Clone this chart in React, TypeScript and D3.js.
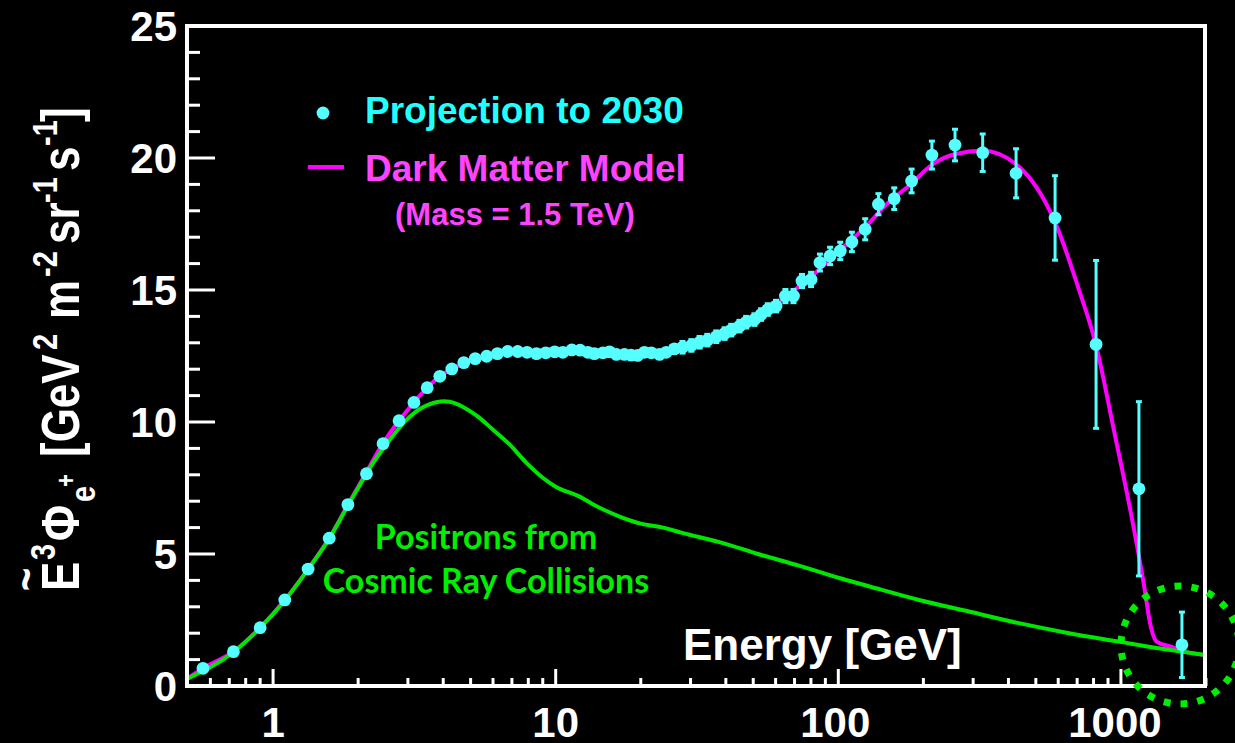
import React from "react";
import * as d3 from "d3";

// ---------- data ----------
const energies = [0.565, 0.724, 0.9, 1.1, 1.33, 1.58, 1.84, 2.14, 2.45, 2.79,
  3.15, 3.51, 3.89, 4.29, 4.73, 5.19, 5.7, 6.22, 6.76, 7.34,
  7.92, 8.55, 9.22, 9.92, 10.6, 11.4, 12.2, 13.0, 13.7, 14.7,
  15.5, 16.4, 17.5, 18.5, 19.5, 20.6, 21.8, 23.3, 24.6, 26.3,
  28.1, 30.2, 32.3, 34.4, 37.0, 39.6, 41.8, 44.7, 47.2, 50.5,
  53.3, 56.3, 60.2, 65.0, 69.4, 74.4, 80.1, 86.1, 93.5, 101.6,
  111.7, 124.5, 138.7, 157.7, 181.7, 214.4, 258.8, 324.2, 425.6, 584.8,
  816.6, 1158, 1644];
const values = [0.67, 1.3, 2.21, 3.26, 4.43, 5.6, 6.87, 8.04, 9.18, 10.05,
  10.74, 11.3, 11.73, 12.01, 12.25, 12.4, 12.49, 12.59, 12.67, 12.67,
  12.64, 12.59, 12.62, 12.66, 12.64, 12.73, 12.72, 12.64, 12.59, 12.62,
  12.66, 12.56, 12.56, 12.53, 12.52, 12.64, 12.62, 12.56, 12.64, 12.77,
  12.83, 12.9, 13.02, 13.1, 13.23, 13.35, 13.48, 13.63, 13.78, 13.88,
  14.07, 14.26, 14.39, 14.77, 14.77, 15.34, 15.4, 16.04, 16.29, 16.48,
  16.82, 17.3, 18.25, 18.46, 19.13, 20.11, 20.49, 20.2, 19.42, 17.73,
  12.94, 7.47, 1.56];
const errors = [0.08, 0.08, 0.08, 0.08, 0.08, 0.08, 0.08, 0.08, 0.08, 0.08,
  0.08, 0.08, 0.08, 0.08, 0.08, 0.08, 0.08, 0.08, 0.08, 0.08,
  0.08, 0.08, 0.08, 0.08, 0.08, 0.08, 0.08, 0.08, 0.08, 0.08,
  0.08, 0.08, 0.08, 0.08, 0.08, 0.08, 0.08, 0.08, 0.08, 0.08,
  0.22, 0.22, 0.22, 0.22, 0.22, 0.22, 0.22, 0.22, 0.22, 0.22,
  0.22, 0.22, 0.22, 0.25, 0.25, 0.25, 0.27, 0.32, 0.33, 0.33,
  0.37, 0.4, 0.4, 0.41, 0.45, 0.53, 0.6, 0.71, 0.93, 1.6,
  3.18, 3.3, 1.24];

// Dark matter model curve
const modelE = [0.5, 0.565, 0.724, 0.9, 1.1, 1.33, 1.58, 1.84, 2.14, 2.45,
  2.79, 3.15, 3.51, 3.89, 4.29, 5.19, 6.22, 7.34, 9, 12,
  16, 20, 25, 30, 40, 50, 60, 70, 80, 100,
  125, 150, 180, 215, 260, 324, 425, 585, 711, 816,
  944, 1096, 1225, 1256, 1341, 1514, 1644, 2000];
const modelV = [0.29, 0.67, 1.3, 2.21, 3.26, 4.43, 5.6, 6.87, 8.1, 9.2,
  10.05, 10.74, 11.3, 11.73, 12.01, 12.38, 12.57, 12.63, 12.62, 12.62,
  12.57, 12.55, 12.62, 12.85, 13.35, 13.9, 14.45, 15.0, 15.5, 16.45,
  17.4, 18.3, 19.0, 19.75, 20.15, 20.27, 19.77, 17.56, 15.0, 12.92,
  9.7, 6.3, 3.38, 2.62, 1.67, 1.48, 1.33, 1.17];

// Cosmic-ray background curve
const bgE = [0.5, 0.724, 0.9, 1.1, 1.33, 1.58, 1.84, 2.05, 2.26, 2.59,
  2.97, 3.4, 3.69, 4.0, 4.22, 4.7, 5.25, 6.0, 6.88, 7.88,
  9.02, 10.0, 12, 14.3, 17, 20, 24, 28, 38, 52,
  73, 100, 129, 193, 290, 436, 655, 984, 1478, 2000];
const bgV = [0.29, 1.28, 2.2, 3.24, 4.42, 5.58, 6.83, 7.7, 8.45, 9.33,
  10.09, 10.57, 10.72, 10.79, 10.77, 10.57, 10.24, 9.71, 9.14, 8.45,
  7.88, 7.55, 7.2, 6.75, 6.4, 6.15, 6.0, 5.8, 5.45, 5.0,
  4.55, 4.1, 3.77, 3.26, 2.82, 2.38, 2.0, 1.68, 1.37, 1.17];

const yTicks = [0, 5, 10, 15, 20, 25];
const xTickLabels = ["1", "10", "100", "1000"];
const xMajor = [1, 10, 100, 1000];

// ---------- layout ----------
const W = 1235, H = 743;
const left = 187, right = 1205, top = 26, bottom = 686;

const CYAN = "#55ffff";
const MAGENTA = "#ff00ff";
const GREEN = "#00e600";

export default function App() {
  const x = d3.scaleLog().domain([0.5, 2000]).range([left + 1, right + 1]);
  const y = d3.scaleLinear().domain([0, 25]).range([bottom, top]);

  const line = d3
    .line<[number, number]>()
    .x((d) => x(d[0]))
    .y((d) => y(d[1]))
    .curve(d3.curveMonotoneX);

  const model = modelE.map((e, i) => [e, modelV[i]] as [number, number]);
  const bg = bgE.map((e, i) => [e, bgV[i]] as [number, number]);

  const xMinor: number[] = [];
  for (let dec = 0.1; dec <= 1000; dec *= 10) {
    for (let k = 2; k <= 9; k++) {
      const v = +(k * dec).toPrecision(3);
      if (v >= 0.55 && v <= 2000) xMinor.push(v);
    }
  }
  const yMinor = d3.range(0, 26).filter((v) => v % 5 !== 0);

  const font = "'Liberation Sans', Arial, Helvetica, sans-serif";

  const tScale = 1.22;
  const tf = 44;
  const sf = 29;

  return (
    <svg
      width={W}
      height={H}
      style={{ position: "absolute", left: 0, top: 0, display: "block", background: "#000" }}
    >
      <rect x={0} y={0} width={W} height={H} fill="#000" />

      <defs>
        <clipPath id="plotclip">
          <rect x={left} y={top} width={right - left} height={bottom - top} />
        </clipPath>
      </defs>

      {/* curves */}
      <g clipPath="url(#plotclip)">
        <path d={line(model) || ""} fill="none" stroke={MAGENTA} strokeWidth={4} />
        <path d={line(bg) || ""} fill="none" stroke={GREEN} strokeWidth={4} />
      </g>

      {/* error bars */}
      <g stroke={CYAN} strokeWidth={3}>
        {energies.map((e, i) => {
          const cx = x(e);
          const y1 = y(values[i] + errors[i]);
          const y2 = y(values[i] - errors[i]);
          return (
            <g key={i}>
              <line x1={cx} x2={cx} y1={y1} y2={y2} />
              <line x1={cx - 3} x2={cx + 3} y1={y1} y2={y1} />
              <line x1={cx - 3} x2={cx + 3} y1={y2} y2={y2} />
            </g>
          );
        })}
      </g>
      {/* points */}
      <g fill={CYAN}>
        {energies.map((e, i) => (
          <circle key={i} cx={x(e)} cy={y(values[i])} r={6.4} />
        ))}
      </g>

      {/* frame */}
      <rect
        x={left}
        y={top}
        width={right - left}
        height={bottom - top}
        fill="none"
        stroke="#fff"
        strokeWidth={4}
      />

      {/* ticks */}
      <g stroke="#fff" strokeWidth={3}>
        {yTicks.map((t) => (
          <line key={"ym" + t} x1={left} x2={left + 28} y1={y(t)} y2={y(t)} />
        ))}
        {yMinor.map((t) => (
          <line key={"yn" + t} x1={left} x2={left + 13} y1={y(t)} y2={y(t)} />
        ))}
        {xMajor.map((t) => (
          <line key={"xm" + t} x1={x(t)} x2={x(t)} y1={bottom} y2={bottom - 17} />
        ))}
        {xMinor.map((t) => (
          <line key={"xn" + t} x1={x(t)} x2={x(t)} y1={bottom} y2={bottom - 8} />
        ))}
      </g>

      {/* y tick labels */}
      <g fill="#fff" fontFamily={font} fontWeight="bold" fontSize={42} textAnchor="end">
        {yTicks.map((t) => (
          <text key={t} x={177} y={y(t) + 15}>
            {t}
          </text>
        ))}
      </g>
      {/* x tick labels */}
      <g fill="#fff" fontFamily={font} fontWeight="bold" fontSize={42} textAnchor="middle">
        {xMajor.map((t, i) => (
          <text key={t} x={x(t) - (i === 3 ? 6 : i === 2 ? 3 : 0)} y={737}>
            {xTickLabels[i]}
          </text>
        ))}
      </g>

      {/* x title */}
      <text x={683} y={660} fill="#fff" fontFamily={font} fontWeight="bold" fontSize={44}>
        Energy [GeV]
      </text>

      {/* y title */}
      <g
        transform={`translate(79, 591) scale(${tScale},1) rotate(-90)`}
        fill="#fff"
        fontFamily={font}
        fontWeight="bold"
      >
        <text x={0} y={0} fontSize={tf}>E</text>
        <text x={0} y={-30} fontSize={40}>~</text>
        <text x={31} y={-20} fontSize={sf}>3</text>
        <text x={50} y={0} fontSize={tf}>Φ</text>
        <text x={89} y={13} fontSize={sf}>e</text>
        <text x={104} y={-3} fontSize={22}>+</text>
        <text x={134} y={0} fontSize={tf}>[GeV</text>
        <text x={241} y={-18} fontSize={sf}>2</text>
        <text x={272} y={0} fontSize={tf}>m</text>
        <text x={314} y={-18} fontSize={sf}>-2</text>
        <text x={347} y={0} fontSize={tf}>sr</text>
        <text x={388} y={-18} fontSize={sf}>-1</text>
        <text x={420} y={0} fontSize={tf}>s</text>
        <text x={445} y={-18} fontSize={sf}>-1</text>
        <text x={469} y={0} fontSize={tf}>]</text>
      </g>

      {/* legend */}
      <circle cx={323} cy={113} r={6.4} fill={CYAN} />
      <text x={365} y={123} fill="#22ffff" fontFamily={font} fontWeight="bold" fontSize={37}>
        Projection to 2030
      </text>
      <line x1={308} x2={344} y1={167} y2={167} stroke={MAGENTA} strokeWidth={4} />
      <text x={365} y={181} fill="#ff44ff" fontFamily={font} fontWeight="bold" fontSize={37}>
        Dark Matter Model
      </text>
      <text x={395} y={225} fill="#ff44ff" fontFamily={font} fontWeight="bold" fontSize={31}>
        (Mass = 1.5 TeV)
      </text>

      {/* green annotation */}
      <g fill="#00ee00" fontFamily="Lato, 'Open Sans', sans-serif" fontWeight="bold" fontSize={34} textAnchor="middle">
        <text x={486} y={549}>Positrons from</text>
        <text x={486} y={593}>Cosmic Ray Collisions</text>
      </g>

      {/* dotted circle */}
      <circle
        cx={1180}
        cy={645}
        r={59}
        fill="none"
        stroke="#00ee00"
        strokeWidth={7}
        strokeDasharray="7 10"
      />
    </svg>
  );
}
